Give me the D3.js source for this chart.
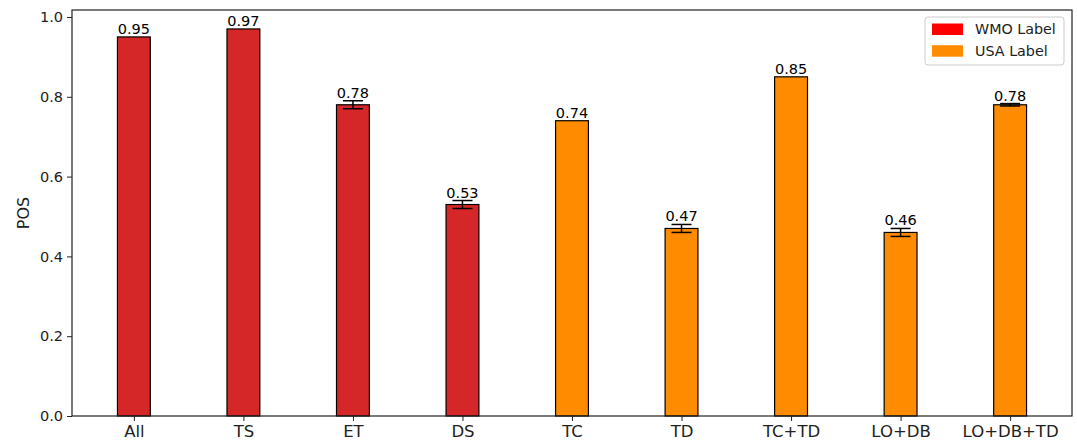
<!DOCTYPE html>
<html><head><meta charset="utf-8">
<script src="https://cdn.jsdelivr.net/npm/d3@7"></script>
<style>body{margin:0;background:#fff}svg{font-family:"DejaVu Sans",sans-serif}</style>
</head><body>
<script>
const categories = ["All","TS","ET","DS","TC","TD","TC+TD","LO+DB","LO+DB+TD"];
const values = [0.95,0.97,0.78,0.53,0.74,0.47,0.85,0.46,0.78];
const errors = [0,0,0.01,0.01,0,0.01,0,0.01,0.003];
const groups = ["WMO","WMO","WMO","WMO","USA","USA","USA","USA","USA"];
const legendLabels = ["WMO Label","USA Label"];
const yTicks = [0.0,0.2,0.4,0.6,0.8,1.0];

const W=1077,H=444;
const L=72,R=1072,T=10,B=416;
const barColor = {WMO:"#d62728", USA:"#ff8c00"};
const legendColor = ["#ff0000","#ff8c00"];

const svg=d3.select("body").append("svg").attr("width",W).attr("height",H);
const x=d3.scaleLinear().domain([-0.565,8.565]).range([L,R]);
const y=d3.scaleLinear().domain([0,1.0175]).range([B,T]);
const bw=0.3;

svg.selectAll("rect.bar").data(values).enter().append("rect")
  .attr("x",(d,i)=>x(i-bw/2)).attr("width",x(bw)-x(0))
  .attr("y",d=>y(d)).attr("height",d=>B-y(d))
  .attr("fill",(d,i)=>barColor[groups[i]]).attr("stroke","#000").attr("stroke-width",1.2);

const eg=svg.append("g");
values.forEach((v,i)=>{
  if(!errors[i]) return;
  const cx=x(i);
  eg.append("line").attr("x1",cx).attr("x2",cx).attr("y1",y(v-errors[i])).attr("y2",y(v+errors[i])).attr("stroke","#000").attr("stroke-width",1.5);
  [v-errors[i],v+errors[i]].forEach(e=>eg.append("line").attr("x1",cx-10).attr("x2",cx+10).attr("y1",y(e)).attr("y2",y(e)).attr("stroke","#000").attr("stroke-width",1.5));
});

svg.selectAll("text.val").data(values).enter().append("text")
  .attr("x",(d,i)=>x(i)).attr("y",(d,i)=>y(d+errors[i])-3)
  .attr("text-anchor","middle").attr("font-size",14.5).attr("fill","#000")
  .text(d=>d.toFixed(2));

// axes
const ya=d3.axisLeft(y).tickValues(yTicks).tickFormat(d3.format(".1f")).tickSize(5).tickPadding(4);
const yg=svg.append("g").attr("transform",`translate(${L},0)`).call(ya);
yg.select(".domain").remove();
yg.selectAll("text").attr("font-size",14.5).attr("fill","#222").attr("font-family","DejaVu Sans");
yg.selectAll("line").attr("stroke","#222");

const xa=d3.axisBottom(x).tickValues(d3.range(categories.length)).tickFormat(i=>categories[i]).tickSize(5).tickPadding(4);
const xg=svg.append("g").attr("transform",`translate(0,${B})`).call(xa);
xg.select(".domain").remove();
xg.selectAll("text").attr("font-size",16.5).attr("fill","#222").attr("font-family","DejaVu Sans");
xg.selectAll("line").attr("stroke","#222");

svg.append("rect").attr("x",L).attr("y",T).attr("width",R-L).attr("height",B-T)
  .attr("fill","none").attr("stroke","#222").attr("stroke-width",1.2);

svg.append("text").attr("transform",`translate(29,${(T+B)/2}) rotate(-90)`)
  .attr("text-anchor","middle").attr("font-size",16).attr("fill","#222").text("POS");

// legend
const lg=svg.append("g").attr("transform","translate(925,17)");
lg.append("rect").attr("width",139).attr("height",48).attr("rx",3).attr("fill","#fff").attr("stroke","#ccc");
legendLabels.forEach((t,i)=>{
  lg.append("rect").attr("x",7).attr("y",6.5+i*21.7).attr("width",31).attr("height",11.5).attr("fill",legendColor[i]);
  lg.append("text").attr("x",50).attr("y",17+i*21.7).attr("font-size",14.3).attr("fill","#222").text(t);
});
</script>
</body></html>
